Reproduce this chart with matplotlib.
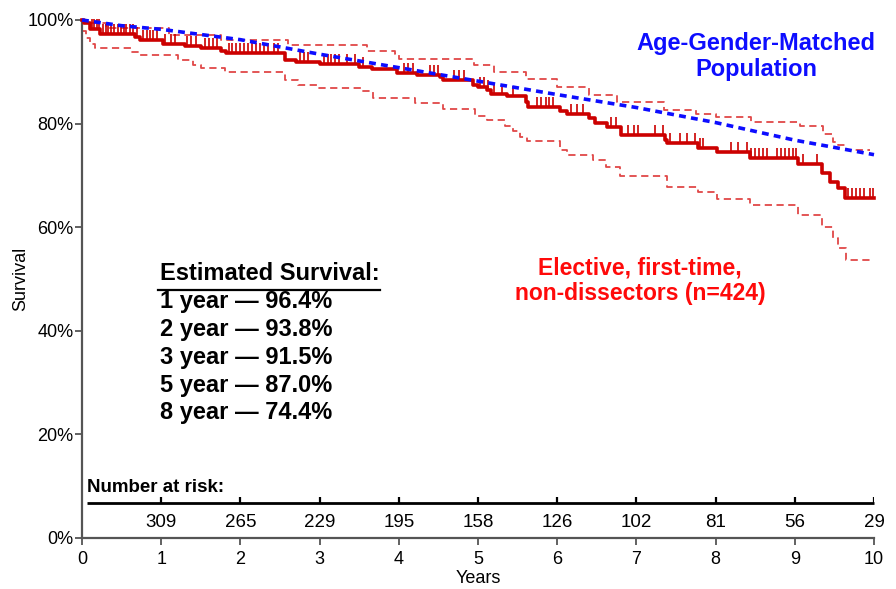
import numpy as np
import matplotlib
matplotlib.use("Agg")
import matplotlib.pyplot as plt
from matplotlib.path import Path

plt.rcParams['font.family'] = ['Liberation Sans', 'DejaVu Sans']

# Kaplan-Meier estimate (years, survival %)
km_years = [0.0, 0.02, 0.10, 0.23, 0.67, 0.73, 1.02, 1.30, 1.50, 1.75, 1.82,
            2.56, 2.70, 3.00, 3.50, 3.66, 3.98, 4.23, 4.52, 4.56, 4.94, 5.00,
            5.11, 5.17, 5.36, 5.61, 5.63, 6.04, 6.12, 6.40, 6.48, 6.63, 6.80,
            7.36, 7.39, 7.78, 8.02, 8.43, 9.04, 9.34, 9.44, 9.54, 9.63, 10.0]
km_surv = [100.0, 99.4, 98.3, 97.3, 96.8, 96.1, 95.4, 95.0, 94.5, 94.1, 93.7,
           92.3, 91.8, 91.5, 91.0, 90.5, 89.8, 89.4, 88.9, 88.4, 87.5, 87.0,
           86.4, 85.8, 85.3, 84.2, 83.3, 82.5, 81.9, 81.1, 80.1, 79.4, 77.8,
           76.8, 76.2, 75.2, 74.5, 73.3, 72.2, 70.4, 68.7, 67.5, 65.6, 65.6]

# 95% confidence band
upper_years = [0.0, 0.05, 0.30, 1.10, 1.75, 2.60, 3.60, 3.95, 4.00, 4.95,
               5.20, 5.60, 6.00, 6.40, 6.75, 7.35, 7.75, 8.00, 8.45, 9.07,
               9.36, 9.48, 9.55, 9.65, 9.95]
upper_surv = [100.0, 99.5, 98.5, 97.2, 96.1, 95.1, 94.0, 93.4, 92.5, 91.3,
              90.0, 88.6, 87.0, 85.6, 84.1, 82.7, 81.9, 81.3, 80.4, 79.6,
              78.0, 76.5, 75.9, 74.9, 74.9]
lower_years = [0.0, 0.05, 0.10, 0.17, 0.62, 0.73, 1.21, 1.40, 1.50, 1.80,
               2.56, 2.73, 2.98, 3.52, 3.67, 4.20, 4.56, 4.96, 5.11, 5.34,
               5.44, 5.53, 5.62, 6.04, 6.12, 6.45, 6.62, 6.79, 7.39, 7.78,
               8.02, 8.43, 9.04, 9.34, 9.48, 9.55, 9.65, 9.99]
lower_surv = [97.8, 96.5, 95.3, 94.5, 93.9, 93.2, 92.3, 91.3, 90.7, 90.0,
              88.4, 87.5, 86.8, 86.2, 85.0, 83.9, 82.9, 81.5, 80.7, 79.6,
              78.6, 77.5, 76.7, 74.9, 74.0, 72.9, 71.6, 69.9, 67.8, 66.7,
              65.5, 64.3, 62.4, 60.1, 58.0, 56.0, 53.7, 53.7]

# Expected survival of the age-gender-matched population
pop_years = [0, 0.5, 1, 2, 3, 4, 5, 6, 7, 8, 9, 10]
pop_surv = [100.0, 98.9, 98.2, 96.2, 93.4, 90.8, 88.2, 85.6, 83.1, 80.2, 76.8, 74.0]

# Censored observations (years)
censor_years = [0.12, 0.15, 0.19, 0.22, 0.26, 0.30, 0.33, 0.37, 0.41, 0.45,
                0.49, 0.53, 0.56, 0.60, 0.64, 0.70, 0.77, 0.82, 0.86, 0.90,
                0.95, 1.05, 1.12, 1.18, 1.33, 1.38, 1.44, 1.55, 1.60, 1.65,
                1.70, 1.86, 1.90, 1.95, 2.00, 2.05, 2.10, 2.15, 2.20, 2.25,
                2.30, 2.35, 2.42, 2.48, 2.75, 2.80, 2.85, 3.05, 3.10, 3.15,
                3.20, 3.25, 3.35, 3.45, 3.55, 4.06, 4.12, 4.18, 4.40, 4.45,
                4.50, 4.70, 4.76, 4.82, 5.03, 5.08, 5.13, 5.20, 5.30, 5.44,
                5.75, 5.80, 5.86, 5.90, 5.95, 6.18, 6.25, 6.32, 6.68, 6.74,
                6.90, 6.97, 7.02, 7.23, 7.34, 7.42, 7.55, 7.64, 7.74, 7.80,
                7.84, 8.20, 8.28, 8.40, 8.45, 8.50, 8.55, 8.60, 8.65, 8.78,
                8.83, 8.88, 8.93, 8.98, 9.02, 9.10, 9.28, 9.67, 9.72, 9.77,
                9.82, 9.88, 9.95, 9.99]

# Number at risk
risk_years = [1, 2, 3, 4, 5, 6, 7, 8, 9, 10]
risk_counts = [309, 265, 229, 195, 158, 126, 102, 81, 56, 29]

# Estimated survival summary
summary_years = [1, 2, 3, 5, 8]
summary_surv = [96.4, 93.8, 91.5, 87.0, 74.4]

x_ticks = list(range(0, 11))
y_ticks = [0, 20, 40, 60, 80, 100]

KM_RED = '#cc0000'
CI_RED = '#e04848'
POP_BLUE = '#0d0dff'

fig = plt.figure(figsize=(8.96, 5.89), dpi=100)
ax = fig.add_axes([82 / 896, 1 - 538 / 589, (874 - 82) / 896, (538 - 20) / 589])
ax.set_xlim(0, 10)
ax.set_ylim(0, 100)

ax.step(upper_years, upper_surv, where='post', color=CI_RED, lw=1.3,
        linestyle=(0, (4, 2.5)), clip_on=False, zorder=2)
ax.step(lower_years, lower_surv, where='post', color=CI_RED, lw=1.3,
        linestyle=(0, (4, 2.5)), clip_on=False, zorder=2)
ax.step(km_years, km_surv, where='post', color=KM_RED, lw=2.6,
        clip_on=False, zorder=3)

# censoring ticks sit on the KM curve and point upward
km_t = np.asarray(km_years)
km_s = np.asarray(km_surv)
cens = np.asarray(censor_years)
idx = np.searchsorted(km_t, cens, side='right') - 1
tick_marker = Path([(0, 0), (0, 1)])
ax.plot(cens, km_s[idx], linestyle='none', marker=tick_marker, markersize=14,
        markeredgewidth=1.2, markeredgecolor=KM_RED, markerfacecolor='none',
        zorder=3, clip_on=False)

ax.plot(pop_years, pop_surv, color=POP_BLUE, lw=2.6,
        linestyle=(0, (1.9, 1.45)), zorder=4, clip_on=False)

# axes styling
for side in ('top', 'right'):
    ax.spines[side].set_visible(False)
for side in ('left', 'bottom'):
    ax.spines[side].set_color('#555555')
    ax.spines[side].set_linewidth(1.6)
ax.set_xticks(x_ticks)
ax.set_yticks(y_ticks)
ax.set_yticklabels([f'{v}%' for v in y_ticks])
ax.tick_params(axis='both', direction='out', length=5, width=1.3,
               color='#555555', labelsize=13)
ax.tick_params(axis='x', pad=4)
ax.tick_params(axis='y', pad=1)
ax.set_xlabel('Years', fontsize=13, labelpad=2)
ax.set_ylabel('Survival', fontsize=13, labelpad=-1)

# number-at-risk table
risk_line_y = 6.8
ax.plot([0.06, 10], [risk_line_y, risk_line_y], color='black', lw=2.0,
        solid_capstyle='butt', clip_on=False)
ax.vlines(risk_years, risk_line_y, risk_line_y + 1.2, color='black', lw=1.6)
for yr, n in zip(risk_years, risk_counts):
    ax.text(yr, 2.9, str(n), ha='center', va='center', fontsize=13.5)
ax.text(0.06, 9.7, 'Number at risk:', ha='left', va='center',
        fontsize=13.5, fontweight='bold')

# annotations
ax.text(8.51, 93.0, 'Age-Gender-Matched\nPopulation', ha='center', va='center',
        fontsize=17, fontweight='bold', color=POP_BLUE, linespacing=1.15)
ax.text(7.05, 49.6, 'Elective, first-time,\nnon-dissectors (n=424)',
        ha='center', va='center', fontsize=16.5, fontweight='bold',
        color='#ff0a0a', linespacing=1.15)

ax.text(0.985, 51.0, 'Estimated Survival:', ha='left', va='center',
        fontsize=17, fontweight='bold')
ax.plot([0.96, 3.76], [47.9, 47.9], color='black', lw=1.6, clip_on=False)
summary_y = [45.6, 40.2, 34.9, 29.5, 24.3]
for yr, s, ty in zip(summary_years, summary_surv, summary_y):
    ax.text(0.985, ty, f'{yr} year \u2014 {s:.1f}%', ha='left', va='center',
            fontsize=17, fontweight='bold')

fig.savefig('out.png', dpi=100)
